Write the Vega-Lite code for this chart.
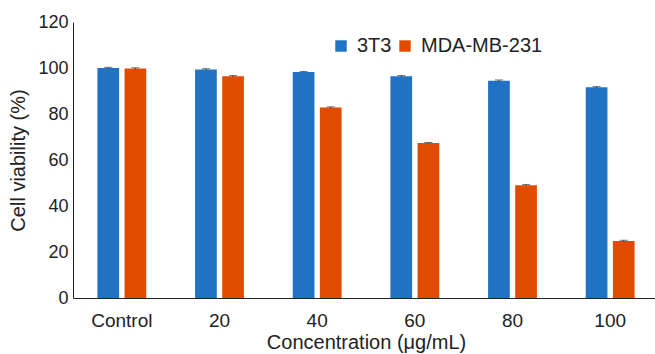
{
  "$schema": "https://vega.github.io/schema/vega-lite/v6.json",
  "autosize": {"type": "none"},
  "padding": {"left": 73, "top": 22, "right": 0, "bottom": 56},
  "width": 586,
  "height": 276,
  "background": "white",
  "config": {
    "view": {"stroke": null},
    "font": "Liberation Sans",
    "axis": {"grid": false, "ticks": false, "domainColor": "#222222", "labelColor": "#222222", "titleColor": "#222222", "labelFontSize": 17, "titleFontSize": 18, "titleFontWeight": "normal"}
  },
  "data": {
    "values": [
      {"conc": "Control", "cell": "3T3", "v": 100, "err": 0.3},
      {"conc": "Control", "cell": "MDA-MB-231", "v": 99.8, "err": 0.3},
      {"conc": "20", "cell": "3T3", "v": 99.4, "err": 0.3},
      {"conc": "20", "cell": "MDA-MB-231", "v": 96.4, "err": 0.3},
      {"conc": "40", "cell": "3T3", "v": 98.3, "err": 0.2},
      {"conc": "40", "cell": "MDA-MB-231", "v": 82.8, "err": 0.3},
      {"conc": "60", "cell": "3T3", "v": 96.4, "err": 0.3},
      {"conc": "60", "cell": "MDA-MB-231", "v": 67.4, "err": 0.2},
      {"conc": "80", "cell": "3T3", "v": 94.5, "err": 0.3},
      {"conc": "80", "cell": "MDA-MB-231", "v": 49.0, "err": 0.3},
      {"conc": "100", "cell": "3T3", "v": 91.6, "err": 0.3},
      {"conc": "100", "cell": "MDA-MB-231", "v": 24.8, "err": 0.3}
    ]
  },
  "encoding": {
    "x": {
      "field": "conc", "type": "nominal", "sort": ["Control", "20", "40", "60", "80", "100"],
      "scale": {"paddingInner": 0.5, "paddingOuter": 0.25},
      "axis": {"labelAngle": 0, "labelPadding": 13, "labelFontSize": 19, "title": "Concentration (μg/mL)", "titlePadding": 2, "titleFontSize": 20}
    },
    "xOffset": {"field": "cell", "type": "nominal", "scale": {"paddingInner": 0.2}}
  },
  "layer": [
    {
      "mark": {"type": "bar"},
      "encoding": {
        "y": {"field": "v", "type": "quantitative", "scale": {"domain": [0, 120]},
          "axis": {"values": [0, 20, 40, 60, 80, 100, 120], "labelPadding": 5, "labelFontSize": 18, "title": "Cell viability (%)", "titlePadding": 9, "titleFontSize": 20}},
        "color": {"field": "cell", "type": "nominal", "scale": {"range": ["#1f72c4", "#e04b00"]},
          "legend": {"title": null, "orient": "none", "legendX": 258, "legendY": 14, "direction": "horizontal", "symbolType": "square", "symbolSize": 130, "labelFontSize": 20, "labelOffset": 6, "columnPadding": 3, "labelColor": "#222222", "symbolStrokeWidth": 0}}
      }
    },
    {
      "mark": {"type": "rule", "color": "#333333", "strokeWidth": 1},
      "encoding": {
        "y": {"field": "lo", "type": "quantitative"},
        "y2": {"field": "hi"}
      },
      "transform": [
        {"calculate": "datum.v - datum.err", "as": "lo"},
        {"calculate": "datum.v + datum.err", "as": "hi"}
      ]
    },
    {
      "mark": {"type": "tick", "color": "#333333", "size": 8, "thickness": 1},
      "encoding": {"y": {"field": "hi", "type": "quantitative"}},
      "transform": [{"calculate": "datum.v + datum.err", "as": "hi"}]
    }
  ]
}
